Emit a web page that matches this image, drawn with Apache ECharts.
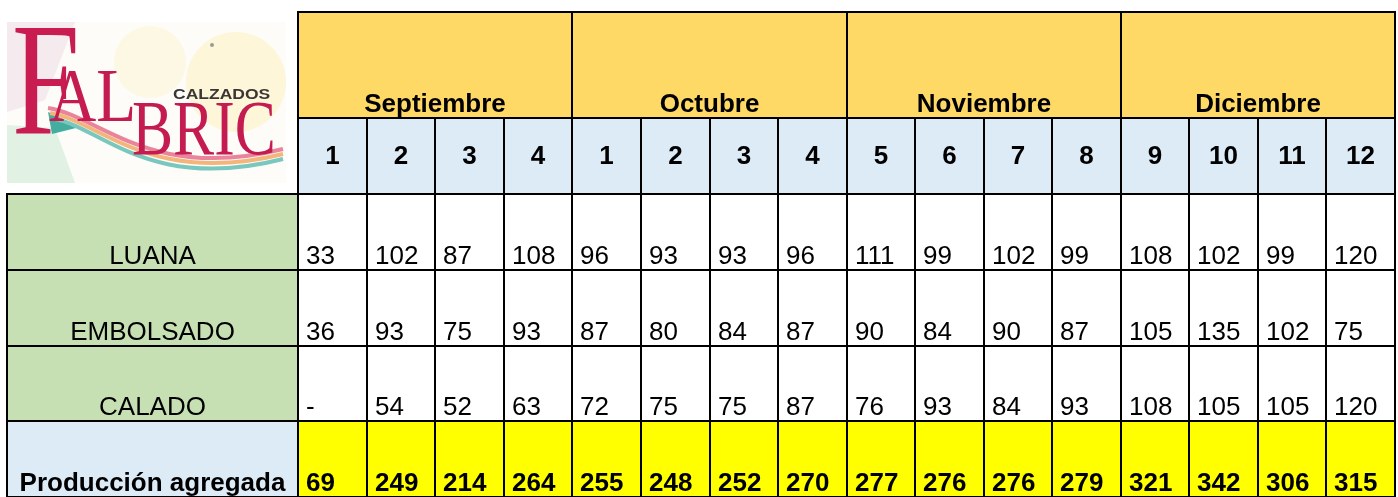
<!DOCTYPE html>
<html>
<head>
<meta charset="utf-8">
<title>Falbric - Producción agregada</title>
<script src="https://cdn.jsdelivr.net/npm/echarts@6/dist/echarts.min.js"></script>
<style>
html, body { margin: 0; padding: 0; background: #fff; }
#chart { width: 1398px; height: 497px; }
</style>
</head>
<body>
<div id="chart"></div>
<script>
// datos de la tabla
const months = ['Septiembre', 'Octubre', 'Noviembre', 'Diciembre'];
const weeks = ['1', '2', '3', '4', '1', '2', '3', '4', '5', '6', '7', '8', '9', '10', '11', '12'];
const rowLabels = ['LUANA', 'EMBOLSADO', 'CALADO'];
const luana = [33, 102, 87, 108, 96, 93, 93, 96, 111, 99, 102, 99, 108, 102, 99, 120];
const embolsado = [36, 93, 75, 93, 87, 80, 84, 87, 90, 84, 90, 87, 105, 135, 102, 75];
const calado = [null, 54, 52, 63, 72, 75, 75, 87, 76, 93, 84, 93, 108, 105, 105, 120];
const totalLabel = 'Producción agregada';
const produccion = [69, 249, 214, 264, 255, 248, 252, 270, 277, 276, 276, 279, 321, 342, 306, 315];

const LABEL_COLS = 4.25;   // ancho columna de nombres (en semanas)
const MONTH_ROW = 1.404;   // alto fila de meses (en filas)
const FONT = '"Liberation Sans", Arial, sans-serif';
const FS = 26;

// celdas: coordenadas en unidades de los ejes
const cells = [];
months.forEach((m, i) => {
  cells.push({ x0: i * 4, x1: i * 4 + 4, y0: 0, y1: MONTH_ROW, text: m, fill: '#FFD966', bold: true, align: 'center', valign: 'bottom' });
});
weeks.forEach((w, i) => {
  cells.push({ x0: i, x1: i + 1, y0: MONTH_ROW, y1: MONTH_ROW + 1, text: w, fill: '#DDEBF7', bold: true, align: 'center', valign: 'middle' });
});
[luana, embolsado, calado].forEach((vals, r) => {
  const y0 = MONTH_ROW + 1 + r;
  cells.push({ x0: -LABEL_COLS, x1: 0, y0: y0, y1: y0 + 1, text: rowLabels[r], fill: '#C6E0B4', bold: false, align: 'center', valign: 'bottom' });
  vals.forEach((v, i) => {
    cells.push({ x0: i, x1: i + 1, y0: y0, y1: y0 + 1, text: v == null ? '-' : String(v), fill: '#fff', bold: false, align: 'left', valign: 'bottom' });
  });
});
const yTot = MONTH_ROW + 4;
cells.push({ x0: -LABEL_COLS, x1: 0, y0: yTot, y1: yTot + 1, text: totalLabel, fill: '#DDEBF7', bold: true, align: 'center', valign: 'bottom' });
produccion.forEach((v, i) => {
  cells.push({ x0: i, x1: i + 1, y0: yTot, y1: yTot + 1, text: String(v), fill: '#FFFF00', bold: true, align: 'left', valign: 'bottom' });
});

function renderCell(params, api) {
  const c = cells[params.dataIndex];
  const p0 = api.coord([c.x0, c.y0]);
  const p1 = api.coord([c.x1, c.y1]);
  const x0 = Math.round(p0[0]), y0 = Math.round(p0[1]);
  const x1 = Math.round(p1[0]), y1 = Math.round(p1[1]);
  let tx = (x0 + x1) / 2;
  if (c.align === 'left') tx = x0 + 8;
  let ty = c.valign === 'middle' ? (y0 + y1) / 2 + 1 : y1 - 0.5;
  return {
    type: 'group',
    children: [{
      type: 'rect',
      shape: { x: x0, y: y0, width: x1 - x0, height: y1 - y0 },
      style: { fill: c.fill, stroke: '#000', lineWidth: 2 }
    }, {
      type: 'text',
      style: {
        text: c.text, x: tx, y: ty,
        align: c.align, verticalAlign: c.valign,
        font: (c.bold ? 'bold ' : '') + FS + 'px ' + FONT,
        fill: '#000'
      }
    }]
  };
}

// logo (dibujo aproximado)
const logo = [
  { type: 'rect', shape: { x: 7, y: 22, width: 279, height: 161 }, style: { fill: '#fdfcf9' } },
  { type: 'circle', shape: { cx: 236, cy: 82, r: 50 }, style: { fill: 'rgba(254,240,190,0.55)' } },
  { type: 'circle', shape: { cx: 150, cy: 62, r: 36 }, style: { fill: 'rgba(254,244,212,0.55)' } },
  { type: 'polygon', shape: { points: [[7, 22], [75, 22], [45, 100], [7, 112]] }, style: { fill: 'rgba(238,218,230,0.55)' } },
  { type: 'polygon', shape: { points: [[7, 125], [55, 128], [75, 183], [7, 183]] }, style: { fill: 'rgba(210,236,218,0.65)' } },
  { type: 'polygon', shape: { points: [[48, 112], [80, 127], [52, 134]] }, style: { fill: '#43ad9f' } },
  { type: 'bezierCurve', shape: { x1: 48, y1: 108, cpx1: 100, cpy1: 116, cpx2: 150, cpy2: 182, x2: 283, y2: 149 }, style: { stroke: '#e9849a', lineWidth: 4, fill: null } },
  { type: 'bezierCurve', shape: { x1: 50, y1: 113, cpx1: 100, cpy1: 121, cpx2: 150, cpy2: 187, x2: 283, y2: 154 }, style: { stroke: '#f3b57c', lineWidth: 4, fill: null } },
  { type: 'bezierCurve', shape: { x1: 55, y1: 119, cpx1: 100, cpy1: 127, cpx2: 150, cpy2: 193, x2: 283, y2: 159 }, style: { stroke: '#79c7bd', lineWidth: 4, fill: null } },
  { type: 'circle', shape: { cx: 212, cy: 45, r: 2 }, style: { fill: '#9a9a9a' } },
  { type: 'text', x: 12, y: 92, scaleX: 0.76, style: { text: 'F', font: '160px "Liberation Serif", serif', fill: '#c91d52', verticalAlign: 'middle' } },
  { type: 'text', x: 49, y: 101, scaleX: 0.85, style: { text: 'AL', font: '77px "Liberation Serif", serif', fill: '#c41b50', verticalAlign: 'middle' } },
  { type: 'text', x: 132, y: 134, scaleX: 0.79, style: { text: 'BRIC', font: '78px "Liberation Serif", serif', fill: '#c41b50', verticalAlign: 'middle' } },
  { type: 'text', x: 173, y: 95, scaleX: 1.25, style: { text: 'CALZADOS', font: 'bold 14px ' + FONT, fill: '#3b3535', verticalAlign: 'middle' } }
];

const chart = echarts.init(document.getElementById('chart'));
chart.setOption({
  animation: false,
  graphic: logo,
  grid: { left: 7, top: 12, width: 1388, height: 76 * (MONTH_ROW + 5) },
  xAxis: { type: 'value', min: -LABEL_COLS, max: 16, show: false },
  yAxis: { type: 'value', min: 0, max: MONTH_ROW + 5, inverse: true, show: false },
  series: [{
    type: 'custom',
    clip: false,
    renderItem: renderCell,
    encode: { x: [0, 1], y: [2, 3] },
    data: cells.map(c => [c.x0, c.x1, c.y0, c.y1])
  }]
});
window.addEventListener('resize', function () {
  chart.resize();
});
</script>
</body>
</html>
